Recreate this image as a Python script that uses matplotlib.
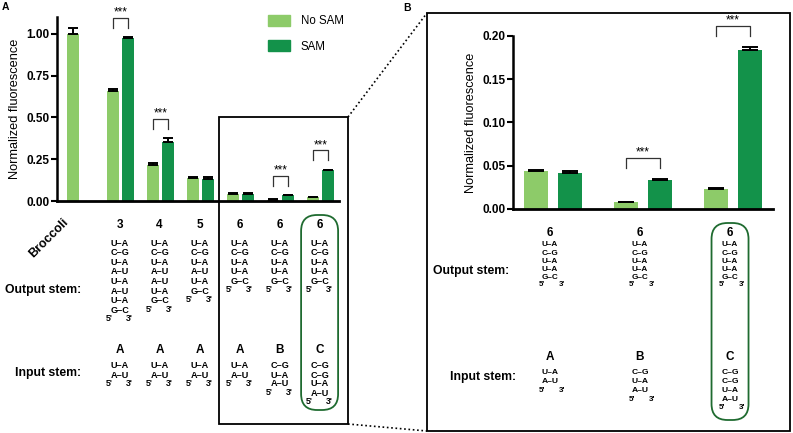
import matplotlib
matplotlib.use("Agg")
import matplotlib.pyplot as plt
from matplotlib.patches import Rectangle, FancyBboxPatch, Patch
from matplotlib.lines import Line2D
from matplotlib.transforms import IdentityTransform
import numpy as np

plt.rcParams['font.family'] = ['Liberation Sans', 'DejaVu Sans']

W, H = 793, 433

# Panel A data (Broccoli, then stem lengths 3,4,5,6,6,6)
constructs = ["Broccoli", "3", "4", "5", "6", "6", "6"]
no_sam = [1.00, 0.655, 0.213, 0.137, 0.044, 0.008, 0.023]
no_sam_err = [0.035, 0.012, 0.015, 0.004, 0.002, 0.001, 0.002]
sam = [np.nan, 0.975, 0.352, 0.133, 0.042, 0.033, 0.184]
sam_err = [0.0, 0.004, 0.025, 0.008, 0.003, 0.003, 0.004]
signif_a = [1, 2, 5, 6]

# Panel B data (zoom on the three length-6 constructs)
no_sam_b = no_sam[4:]
sam_b = sam[4:]
no_sam_err_b = [0.0008, 0.0006, 0.0008]
sam_err_b = [0.0025, 0.0022, 0.0035]
signif_b = [1, 2]

# stems drawn below the bars
output_stems = [
    ["U–A", "C–G", "U–A", "A–U", "U–A", "A–U", "U–A", "G–C"],
    ["U–A", "C–G", "U–A", "A–U", "A–U", "U–A", "G–C"],
    ["U–A", "C–G", "U–A", "A–U", "U–A", "G–C"],
    ["U–A", "C–G", "U–A", "U–A", "G–C"],
    ["U–A", "C–G", "U–A", "U–A", "G–C"],
    ["U–A", "C–G", "U–A", "U–A", "G–C"],
]
input_names = ["A", "A", "A", "A", "B", "C"]
input_stems = {
    "A": ["U–A", "A–U"],
    "B": ["C–G", "U–A", "A–U"],
    "C": ["C–G", "C–G", "U–A", "A–U"],
}

light = '#8DCB69'
dark = '#13924A'
ring = '#1F6B30'


def px_rect(l, t, r, b):
    return [l / W, 1 - b / H, (r - l) / W, (b - t) / H]


def ftext(x, y, s, **kw):
    fig.text(x / W, 1 - y / H, s, **kw)


def style_axes(ax, ticks):
    for s in ['top', 'right']:
        ax.spines[s].set_visible(False)
    ax.spines['left'].set_linewidth(1.8)
    ax.spines['bottom'].set_linewidth(2.0)
    ax.set_xticks([])
    ax.set_yticks(ticks)
    ax.set_yticklabels(["%.2f" % t for t in ticks], fontweight='bold', fontsize=8.5)
    ax.tick_params(axis='y', length=4, width=1.5, pad=1.5)
    ax.set_ylabel("Normalized fluorescence", fontsize=9.2, labelpad=4)


def draw_bars(ax, nos, nos_err, s, s_err, width, off, cap):
    x = np.arange(len(nos))
    ax.bar(x - off, nos, width, color=light, zorder=2)
    ax.bar(x + off, s, width, color=dark, zorder=2)
    ax.errorbar(x - off, nos, yerr=[np.zeros(len(x)), nos_err], fmt='none',
                ecolor='black', elinewidth=1.4, capsize=cap, capthick=1.4, zorder=3)
    ax.errorbar(x + off, s, yerr=[np.zeros(len(x)), s_err], fmt='none',
                ecolor='black', elinewidth=1.4, capsize=cap, capthick=1.4, zorder=3)


def brackets(ax, idx, nos, nos_err, s, s_err, off, gap, leg):
    for i in idx:
        base = max(nos[i] + nos_err[i], s[i] + s_err[i]) + gap
        top = base + leg
        ax.plot([i - off, i - off, i + off, i + off], [base, top, top, base],
                color='#333333', lw=0.9, clip_on=False, zorder=4)
        ax.annotate("***", (i, top), xytext=(0, -0.5), textcoords='offset points',
                    ha='center', va='bottom', fontsize=8.5, annotation_clip=False)


def draw_stem(xc, y0, step, pairs, size, dx5, dx3, pgap, psize):
    for k, p in enumerate(pairs):
        ftext(xc, y0 + k * step, p, ha='center', va='center', fontsize=size, fontweight='bold')
    yp = y0 + (len(pairs) - 1) * step + pgap
    ftext(xc + dx5, yp, "5'", ha='center', va='center', fontsize=psize, fontweight='bold')
    ftext(xc + dx3, yp, "3'", ha='center', va='center', fontsize=psize, fontweight='bold')


fig = plt.figure(figsize=(W / 100, H / 100), dpi=100)

# ---- panel A ----
ax_a = fig.add_axes(px_rect(57, 17, 339, 201))
off_a = 0.19
draw_bars(ax_a, no_sam, no_sam_err, sam, sam_err, 0.29, off_a, 3.5)
ax_a.set_xlim(-0.59, 6.46)
ax_a.set_ylim(0, 1.10)
style_axes(ax_a, [0, 0.25, 0.5, 0.75, 1.0])
brackets(ax_a, signif_a, no_sam, no_sam_err, sam, sam_err, off_a, 0.055, 0.06)
ax_a.legend(handles=[Patch(color=light, label='No SAM'), Patch(color=dark, label='SAM')],
            loc='upper left', bbox_to_anchor=(268 / W, 1 - 15 / H), bbox_transform=fig.transFigure,
            frameon=False, borderpad=0, borderaxespad=0, fontsize=8.3,
            handlelength=1.9, handleheight=1.1, handletextpad=0.95, labelspacing=1.1)

# ---- panel B ----
ax_b = fig.add_axes(px_rect(513, 36, 773, 209))
off_b = 0.19
draw_bars(ax_b, no_sam_b, no_sam_err_b, sam_b, sam_err_b, 0.27, off_b, 5.5)
ax_b.set_xlim(-0.444, 2.444)
ax_b.set_ylim(0, 0.20)
style_axes(ax_b, [0, 0.05, 0.10, 0.15, 0.20])
brackets(ax_b, signif_b, no_sam_b, no_sam_err_b, sam_b, sam_err_b, off_b, 0.0125, 0.0115)

# ---- labels under panel A ----
xa = [ax_a.transData.transform((i, 0))[0] - 1 for i in range(len(constructs))]
ftext(xa[0] - 31, 238, constructs[0], rotation=45, ha='center', va='center',
      fontsize=9, fontweight='bold')
for j in range(1, len(constructs)):
    xc = xa[j]
    ftext(xc, 225, constructs[j], ha='center', va='center', fontsize=8.5, fontweight='bold')
    draw_stem(xc, 243, 9.6, output_stems[j - 1], 6.6, -10, 10, 8.5, 6.3)
    name = input_names[j - 1]
    ftext(xc, 350, name, ha='center', va='center', fontsize=8.5, fontweight='bold')
    draw_stem(xc, 366, 9.0, input_stems[name], 6.6, -10, 10, 8.5, 6.3)
ftext(43, 290, "Output stem:", ha='center', va='center', fontsize=8.8, fontweight='bold')
ftext(48, 373, "Input stem:", ha='center', va='center', fontsize=8.8, fontweight='bold')

# ---- labels under panel B ----
xb = [ax_b.transData.transform((i, 0))[0] - 3 for i in range(3)]
for j in range(3):
    xc = xb[j]
    ftext(xc, 233, constructs[4 + j], ha='center', va='center', fontsize=8.5, fontweight='bold')
    draw_stem(xc, 245, 8.2, output_stems[3 + j], 5.9, -8, 12, 6.8, 5.6)
    name = input_names[3 + j]
    ftext(xc, 357, name, ha='center', va='center', fontsize=8.5, fontweight='bold')
    draw_stem(xc, 373, 8.8, input_stems[name], 6.1, -8, 12, 8.5, 5.8)
ftext(471, 271, "Output stem:", ha='center', va='center', fontsize=8.8, fontweight='bold')
ftext(483, 377, "Input stem:", ha='center', va='center', fontsize=8.8, fontweight='bold')

# ---- boxes, zoom lines and highlight rings ----
ident = IdentityTransform()
fig.add_artist(Rectangle((219, H - 424), 129, 307, fill=False, ec='black', lw=1.3, transform=ident))
fig.add_artist(Rectangle((427, H - 431), 363, 418, fill=False, ec='black', lw=1.3, transform=ident))
fig.add_artist(Line2D([348, 427], [H - 117, H - 13], color='black', lw=1.2, ls=(0, (1, 1.6)), transform=ident))
fig.add_artist(Line2D([348, 427], [H - 424, H - 431], color='black', lw=1.2, ls=(0, (1, 1.6)), transform=ident))

for xc, top, bot in [(xa[6], 215, 410), (xb[2], 223, 420)]:
    fig.add_artist(FancyBboxPatch((xc - 18.5, H - bot), 37, bot - top,
                                  boxstyle="round,pad=0,rounding_size=16",
                                  fill=False, ec=ring, lw=1.3, transform=ident))

ftext(5, 7, "A", ha='center', va='center', fontsize=7.5, fontweight='bold')
ftext(407, 8, "B", ha='center', va='center', fontsize=7.5, fontweight='bold')

fig.savefig("out.png", dpi=100)
